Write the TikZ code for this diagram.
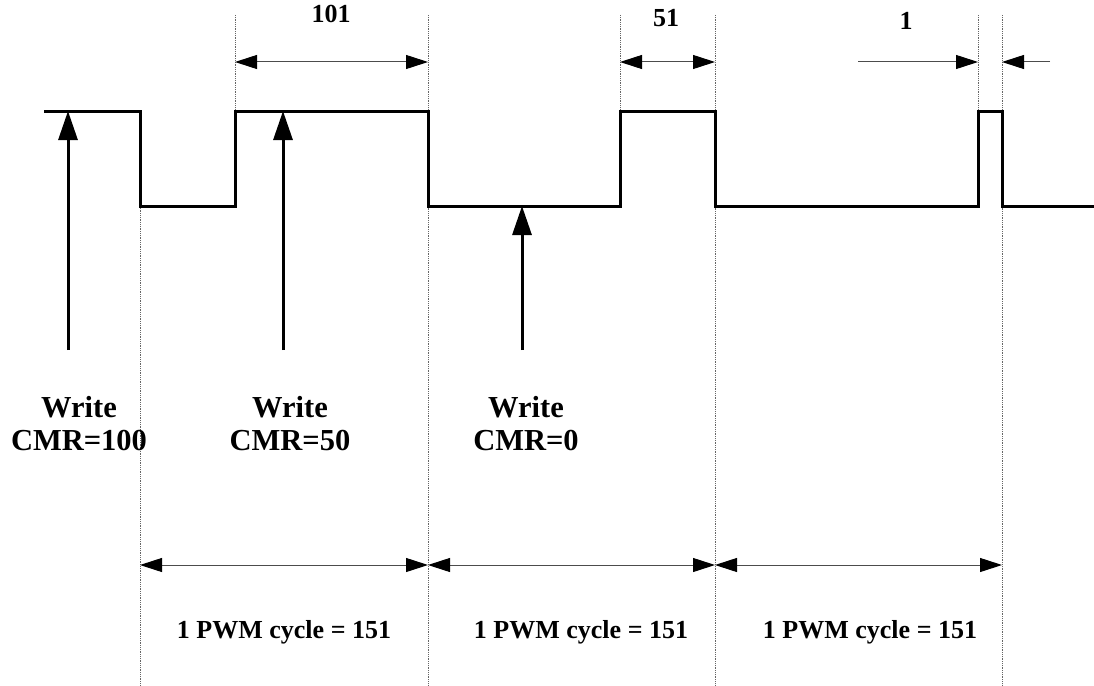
\documentclass[tikz,border=0pt]{standalone}
\usepackage{fontspec}
\setmainfont{Liberation Serif}
\usetikzlibrary{arrows.meta}
\begin{document}
\begin{tikzpicture}[x=1pt,y=-1pt,
  wave/.style={line width=3pt,line join=miter,line cap=rect},
  guide/.style={densely dotted,line width=0.8pt,black!60},
  dimline/.style={line width=1pt,black!70,
     {Triangle[length=22pt,width=14pt,color=black]}-{Triangle[length=22pt,width=14pt,color=black]}},
  dimend/.style={line width=1pt,black!70,-{Triangle[length=22pt,width=14pt,color=black]}},
  writearrow/.style={line width=3pt,-{Triangle[length=29pt,width=19pt]}},
  biglabel/.style={font=\fontsize{30.5}{33}\selectfont\bfseries,align=center,anchor=base,inner sep=0pt},
  smalllabel/.style={font=\fontsize{26}{28}\selectfont\bfseries,anchor=base,inner sep=0pt}]
\useasboundingbox (0,0) rectangle (1094,685);

% guide lines
\coordinate (g1b) at (140,206);  \coordinate (g1e) at (140,685);
\coordinate (g2b) at (235,15);   \coordinate (g2e) at (235,111);
\coordinate (g3b) at (428,15);   \coordinate (g3e) at (428,685);
\coordinate (g4b) at (620,15);   \coordinate (g4e) at (620,111);
\coordinate (g5b) at (715,15);   \coordinate (g5e) at (715,685);
\coordinate (g6b) at (978,15);   \coordinate (g6e) at (978,111);
\coordinate (g7b) at (1002,15);  \coordinate (g7e) at (1002,685);
\foreach \i in {1,...,7} { \draw[guide] (g\i b) -- (g\i e); }

% waveform
\draw[wave] (45,111) -- (140,111) -- (140,206) -- (235,206) -- (235,111)
  -- (428,111) -- (428,206) -- (620,206) -- (620,111) -- (715,111)
  -- (715,206) -- (978,206) -- (978,111) -- (1002,111) -- (1002,206) -- (1094,206);

% top dimensions
\coordinate (d1a) at (235,62); \coordinate (d1b) at (428,62);
\coordinate (d2a) at (620,62); \coordinate (d2b) at (715,62);
\coordinate (d3a) at (858,62); \coordinate (d3b) at (978,62);
\coordinate (d4a) at (1050,62); \coordinate (d4b) at (1002,62);
\draw[dimline] (d1a) -- (d1b);
\draw[dimline] (d2a) -- (d2b);
\draw[dimend] (d3a) -- (d3b);
\draw[dimend] (d4a) -- (d4b);
\node[smalllabel] (l101) at (331,23) {101};
\node[smalllabel] (l51) at (666,27) {51};
\node[smalllabel] (l1) at (906,30) {1};

% write arrows
\coordinate (w1s) at (68,350);  \coordinate (w1e) at (68,111);
\coordinate (w2s) at (283,350); \coordinate (w2e) at (283,111);
\coordinate (w3s) at (522,350); \coordinate (w3e) at (522,206);
\draw[writearrow] (w1s) -- (w1e);
\draw[writearrow] (w2s) -- (w2e);
\draw[writearrow] (w3s) -- (w3e);
\node[biglabel] (t1) at (79,450) {Write\\CMR=100};
\node[biglabel] (t2) at (290,450) {Write\\CMR=50};
\node[biglabel] (t3) at (526,450) {Write\\CMR=0};

% cycle dimensions
\coordinate (c0) at (140,565); \coordinate (c1) at (428,565);
\coordinate (c2) at (715,565); \coordinate (c3) at (1002,565);
\draw[dimline] (c0) -- (c1);
\draw[dimline] (c1) -- (c2);
\draw[dimline] (c2) -- (c3);
\node[smalllabel] (p1) at (284,638) {1 PWM cycle = 151};
\node[smalllabel] (p2) at (581,638) {1 PWM cycle = 151};
\node[smalllabel] (p3) at (870,638) {1 PWM cycle = 151};
\end{tikzpicture}
\end{document}
